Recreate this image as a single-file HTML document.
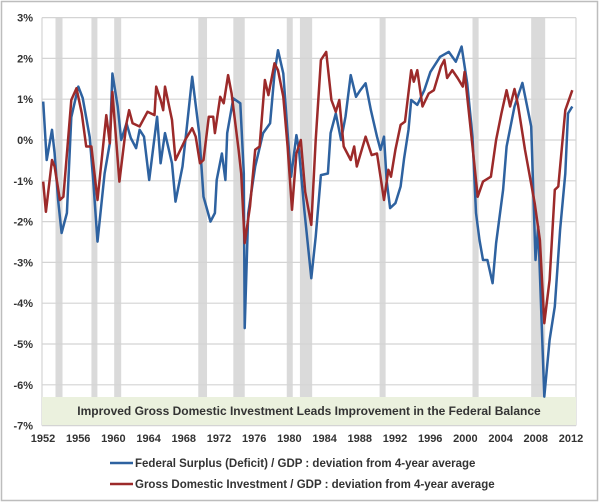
<!DOCTYPE html>
<html><head><meta charset="utf-8"><style>
html,body{margin:0;padding:0;background:#fff;}
svg{display:block;font-family:"Liberation Sans",sans-serif;}
</style></head><body>
<svg id="chart" width="600" height="503" viewBox="0 0 600 503">
<rect x="1.5" y="1.5" width="596" height="499" fill="#fff" stroke="#bdbdbd" stroke-width="1.5"/>
<g id="bands"></g>
<g id="grid"></g>
<rect x="42" y="397" width="534" height="28" fill="#ebf1de"/>
<text x="309" y="415" text-anchor="middle" font-size="12" font-weight="bold" fill="#333">Improved Gross Domestic Investment Leads Improvement in the Federal Balance</text>
<g id="ylabels"></g>
<g id="xlabels"></g>
<g id="series"></g>
<g>
<line x1="110" y1="463" x2="133" y2="463" stroke="#2e62a0" stroke-width="2.5"/>
<text x="135" y="467" font-size="11.5" font-weight="bold" fill="#333">Federal Surplus (Deficit) / GDP : deviation from 4-year average</text>
<line x1="110" y1="484" x2="133" y2="484" stroke="#9c2a2a" stroke-width="2.5"/>
<text x="135" y="488" font-size="11.5" font-weight="bold" fill="#333">Gross Domestic Investment / GDP : deviation from 4-year average</text>
</g>
</svg>
<script>
const yTicks=[3,2,1,0,-1,-2,-3,-4,-5,-6,-7];
const xTickLabels=["1952","1956","1960","1964","1968","1972","1976","1980","1984","1988","1992","1996","2000","2004","2008","2012"];
const recessionStarts=[1953.6,1957.7,1960.3,1969.9,1973.9,1980.0,1981.5,1990.6,2001.2,2007.9];
const recessionEnds=[1954.4,1958.3,1961.1,1970.9,1975.2,1980.5,1982.9,1991.2,2001.9,2009.5];
const fedYears=[1952.2,1952.6,1953.2,1953.5,1953.9,1954.3,1954.9,1955.4,1956.2,1956.7,1957.5,1957.9,1958.4,1959.2,1959.8,1960.1,1960.7,1961.1,1961.7,1962.2,1962.8,1963.2,1963.7,1964.3,1965.2,1965.6,1966.1,1966.9,1967.3,1968.1,1968.6,1969.2,1970.0,1970.5,1971.3,1971.8,1972.0,1972.6,1973.0,1973.2,1973.9,1974.7,1975.1,1975.2,1975.6,1976.4,1977.3,1978.1,1978.6,1979.0,1979.6,1980.1,1980.5,1981.1,1981.4,1982.0,1982.8,1983.3,1983.9,1984.7,1985.0,1985.6,1986.2,1986.7,1987.3,1987.9,1988.4,1989.0,1989.6,1990.3,1990.7,1991.1,1991.4,1991.8,1992.4,1993.0,1993.4,1993.9,1994.2,1994.9,1995.7,1996.4,1997.5,1998.5,1999.3,1999.96,2000.6,2001.2,2001.6,2002.0,2002.4,2002.9,2003.5,2003.9,2004.7,2005.1,2006.0,2006.9,2007.9,2008.4,2008.7,2009.4,2010.0,2010.6,2011.2,2011.8,2012.1,2012.6];
const fedValues=[0.94,-0.49,0.25,-0.32,-1.47,-2.28,-1.79,0.56,1.31,1.03,0.07,-0.98,-2.49,-0.82,-0.08,1.63,0.82,0,0.41,0.05,-0.2,0.25,0.08,-0.98,0.57,-0.57,0.17,-0.57,-1.51,-0.65,0.33,1.55,0.17,-1.39,-2.0,-1.79,-0.98,-0.33,-0.98,0.17,1.02,0.9,-0.82,-4.61,-1.8,-0.65,0.17,0.41,1.63,2.2,1.63,0.17,-0.9,0.12,-0.25,-1.71,-3.39,-2.37,-0.86,-0.82,0.17,0.65,0,0.57,1.59,1.06,1.22,1.39,0.73,0.08,-0.24,0.08,-0.98,-1.67,-1.55,-1.14,-0.45,0.25,0.98,0.86,1.22,1.67,2.04,2.16,1.92,2.29,1.39,0.08,-1.79,-2.45,-2.94,-2.94,-3.51,-2.53,-1.22,-0.16,0.82,1.4,0.33,-2.94,-2.12,-6.29,-4.9,-4.08,-2.2,-0.82,0.65,0.82];
const invYears=[1952.2,1952.5,1953.2,1953.5,1954.1,1954.5,1955.4,1956.0,1956.6,1957.1,1957.7,1958.4,1959.4,1959.8,1960.1,1960.9,1961.7,1962.0,1962.4,1963.2,1964.1,1964.9,1965.1,1965.6,1965.9,1966.1,1966.9,1967.3,1968.4,1969.2,1969.6,1970.1,1970.5,1971.1,1971.6,1971.8,1972.4,1972.8,1973.3,1973.7,1974.5,1974.8,1975.2,1975.8,1976.4,1976.9,1977.5,1977.9,1978.6,1979.0,1979.6,1980.1,1980.6,1981.1,1981.6,1982.1,1982.8,1983.3,1983.9,1984.5,1985.1,1985.6,1986.0,1986.5,1987.3,1987.7,1988.0,1989.0,1989.7,1990.3,1991.1,1991.6,1991.9,1992.4,1993.0,1993.5,1994.2,1994.5,1994.9,1995.5,1996.2,1996.8,1997.6,1998.0,1998.3,1998.9,1999.5,2000.1,2000.3,2001.2,2001.8,2002.4,2003.3,2003.9,2004.5,2005.1,2005.5,2006.0,2006.4,2007.2,2008.3,2008.9,2009.4,2010.0,2010.6,2011.0,2011.8,2012.6];
const invValues=[-1.02,-1.76,-0.49,-0.65,-1.47,-1.39,0.98,1.27,0.65,-0.16,-0.16,-1.47,0.61,-0.08,1.18,-1.02,0.41,0.73,0.41,0.33,0.69,0.61,1.31,0.98,0.73,1.31,0.49,-0.49,0,0.29,0.08,-0.57,-0.49,0.57,0.57,0.17,1.06,0.9,1.59,1.14,-0.24,-0.82,-2.53,-1.63,-0.24,-0.16,1.47,1.1,1.88,1.71,1.06,-0.16,-1.71,-0.33,0,-1.27,-2.08,0,1.96,2.16,0.98,0.69,0.98,-0.16,-0.49,-0.16,-0.65,0.08,-0.37,-0.33,-1.47,-0.73,-0.9,-0.24,0.37,0.45,1.71,1.43,1.71,0.82,1.14,1.22,1.8,1.96,1.52,1.71,1.52,1.31,1.67,-0.16,-1.39,-1.02,-0.9,0,0.65,1.22,0.82,1.25,0.86,-0.24,-1.55,-2.45,-4.49,-3.43,-1.22,-1.14,0.73,1.22];

const NS="http://www.w3.org/2000/svg";
const PL=42,PR=576;
function xScale(t){return 59+(t-1954)*8.76;}
function yScale(v){return 140-v*40.8;}
function mk(tag,attrs,parent){const e=document.createElementNS(NS,tag);for(const k in attrs)e.setAttribute(k,attrs[k]);parent.appendChild(e);return e;}

const bands=document.getElementById('bands');
recessionStarts.forEach((s,i)=>{
  const x1=xScale(s),x2=xScale(recessionEnds[i]);
  const r=mk('rect',{x:x1,y:yScale(3),width:Math.max(6,x2-x1),height:yScale(-7)-yScale(3),fill:'#dadada'},bands);
  
  
});
const grid=document.getElementById('grid');
const yl=document.getElementById('ylabels');
yTicks.forEach(v=>{
  const g=mk('line',{x1:PL,x2:PR,y1:yScale(v),y2:yScale(v),stroke:'#d4d4d4','stroke-width':1.2},grid);
  
  
  const t=mk('text',{x:33,y:yScale(v)+4,'text-anchor':'end','font-size':11,'font-weight':'bold',fill:'#333'},yl);
  t.textContent=v+'%';
  
  
});
mk('line',{x1:PL,x2:PL,y1:yScale(3),y2:yScale(-7),stroke:'#d4d4d4','stroke-width':1.2},grid);
mk('line',{x1:PR,x2:PR,y1:yScale(3),y2:yScale(-7),stroke:'#d4d4d4','stroke-width':1.2},grid);
const xl=document.getElementById('xlabels');
xTickLabels.forEach((lab,i)=>{
  const t=mk('text',{x:43+i*35.2,y:442,'text-anchor':'middle','font-size':11,'font-weight':'bold',fill:'#333'},xl);
  t.textContent=lab;
  
  
});
const ser=document.getElementById('series');
function line(xs,vs,color,name){
  const d=xs.map((t,i)=>(i?'L':'M')+Math.min(PR,xScale(t)).toFixed(1)+','+yScale(vs[i]).toFixed(1)).join('');
  const p=mk('path',{d:d,fill:'none',stroke:color,'stroke-width':2.5,'stroke-linejoin':'round'},ser);
  
  
}
line(fedYears,fedValues,'#2e62a0','federal-surplus-line');
line(invYears,invValues,'#9c2a2a','gross-investment-line');
</script>
</body></html>
